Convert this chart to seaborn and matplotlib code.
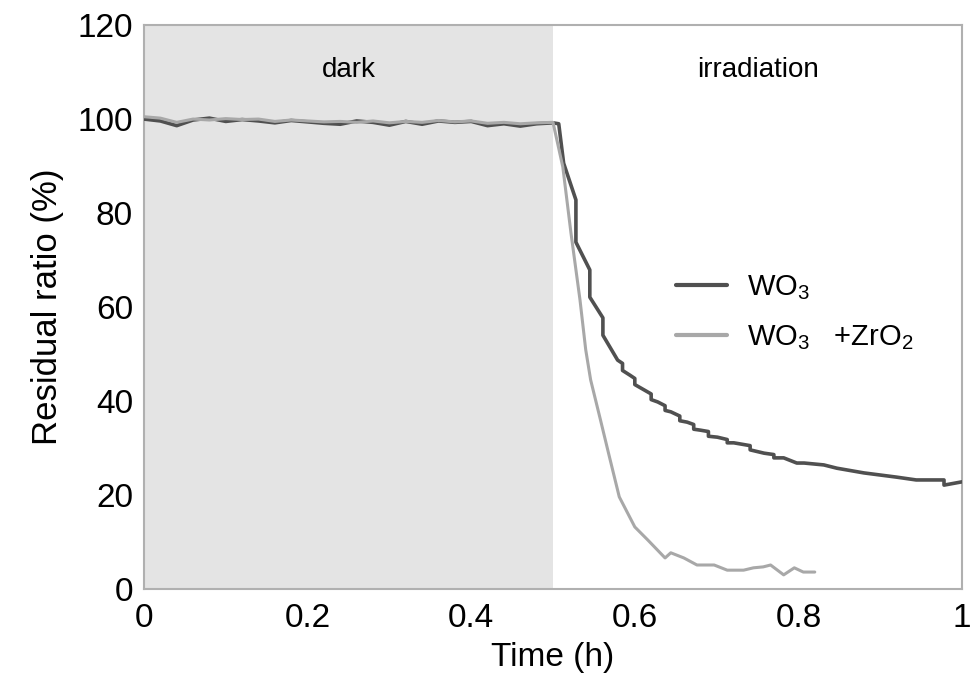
import pandas as pd
import matplotlib.pyplot as plt
import seaborn as sns

# time (h) and residual ratio (%)
wo3_time = [0.00, 0.02, 0.04, 0.06, 0.08, 0.10, 0.12, 0.14, 0.16, 0.18, 0.20, 0.22, 0.24,
            0.26, 0.28, 0.30, 0.32, 0.34, 0.36, 0.38, 0.40, 0.42, 0.44, 0.46, 0.48, 0.50,
            0.507, 0.513, 0.528, 0.528, 0.545, 0.545, 0.561, 0.561, 0.579, 0.585, 0.585,
            0.594, 0.600, 0.600, 0.612, 0.620, 0.620, 0.628, 0.637, 0.637, 0.644, 0.655,
            0.655, 0.664, 0.672, 0.672, 0.680, 0.690, 0.690, 0.701, 0.713, 0.713, 0.721,
            0.741, 0.741, 0.758, 0.770, 0.770, 0.782, 0.798, 0.807, 0.831, 0.847, 0.880,
            0.920, 0.944, 0.978, 0.978, 1.00]
wo3_ratio = [100.0, 99.6, 98.6, 99.8, 100.2, 99.5, 99.9, 99.6, 99.2, 99.7, 99.4, 99.1, 98.9,
             99.6, 99.3, 98.7, 99.5, 98.9, 99.6, 99.3, 99.5, 98.6, 99.0, 98.5, 99.0, 99.2,
             99.0, 90.6, 82.8, 73.8, 67.9, 62.1, 57.7, 54.0, 48.7, 48.0, 46.5,
             45.5, 44.8, 43.5, 42.3, 41.5, 40.3, 39.8, 39.0, 38.0, 37.7, 36.8,
             35.8, 35.5, 35.0, 34.0, 33.8, 33.5, 32.5, 32.3, 31.8, 31.1, 31.1,
             30.5, 29.6, 28.9, 28.6, 27.9, 27.9, 26.8, 26.8, 26.4, 25.7, 24.7,
             23.8, 23.2, 23.2, 22.1, 22.8]

zro2_time = [0.00, 0.02, 0.04, 0.06, 0.08, 0.10, 0.12, 0.14, 0.16, 0.18, 0.20, 0.22, 0.24,
             0.26, 0.28, 0.30, 0.32, 0.34, 0.36, 0.38, 0.40, 0.42, 0.44, 0.46, 0.48, 0.50,
             0.512, 0.522, 0.533, 0.540, 0.546, 0.558, 0.569, 0.581, 0.600, 0.616, 0.637,
             0.644, 0.660, 0.676, 0.697, 0.713, 0.733, 0.745, 0.757, 0.766, 0.782, 0.795,
             0.806, 0.820]
zro2_ratio = [100.5, 100.2, 99.3, 100.0, 99.8, 100.1, 99.9, 100.0, 99.5, 99.8, 99.6, 99.4, 99.5,
              99.3, 99.6, 99.2, 99.5, 99.3, 99.7, 99.4, 99.6, 99.1, 99.3, 99.0, 99.2, 99.3,
              89.8, 75.7, 61.5, 50.9, 44.5, 36.0, 28.1, 19.6, 13.2, 10.4, 6.6,
              7.7, 6.6, 5.1, 5.1, 4.0, 4.0, 4.5, 4.7, 5.1, 3.0, 4.5,
              3.6, 3.6]

labels = ['WO$_3$', 'WO$_3$   +ZrO$_2$']

df = pd.concat([
    pd.DataFrame({'time': wo3_time, 'ratio': wo3_ratio, 'sample': labels[0]}),
    pd.DataFrame({'time': zro2_time, 'ratio': zro2_ratio, 'sample': labels[1]}),
])

sns.set_style('white')
plt.rcParams['font.family'] = ['Liberation Sans', 'DejaVu Sans']
plt.rcParams['mathtext.fontset'] = 'custom'
plt.rcParams['mathtext.rm'] = 'Liberation Sans'
plt.rcParams['mathtext.it'] = 'Liberation Sans'
plt.rcParams['mathtext.default'] = 'regular'
plt.rcParams['text.color'] = 'black'
plt.rcParams['axes.labelcolor'] = 'black'
plt.rcParams['xtick.labelcolor'] = 'black'
plt.rcParams['ytick.labelcolor'] = 'black'

fig = plt.figure(figsize=(9.73, 6.97), dpi=100)
ax = fig.add_axes([0.148, 0.155, 0.8407, 0.809])

# shaded dark period
ax.axvspan(0, 0.5, color='#e4e4e4', zorder=0, lw=0)

sns.lineplot(data=df, x='time', y='ratio', hue='sample', estimator=None, sort=False,
             palette={labels[0]: '#505050', labels[1]: '#a8a8a8'}, ax=ax, zorder=3)
for line, lw in zip(ax.lines, [2.6, 2.2]):
    line.set_linewidth(lw)

ax.set_xlim(0, 1)
ax.set_ylim(0, 120)
ax.set_xticks([0, 0.2, 0.4, 0.6, 0.8, 1])
ax.set_xticklabels(['0', '0.2', '0.4', '0.6', '0.8', '1'])
ax.set_yticks([0, 20, 40, 60, 80, 100, 120])
ax.tick_params(direction='in', length=5, color='#b0b0b0', labelsize=24, pad=8)
ax.tick_params(axis='x', pad=10)
for s in ax.spines.values():
    s.set_color('#b0b0b0')
    s.set_linewidth(1.5)

ax.set_xlabel('Time (h)', fontsize=24, labelpad=6)
ax.set_ylabel('Residual ratio (%)', fontsize=25, labelpad=10)

ax.text(0.25, 110.5, 'dark', ha='center', va='center', fontsize=20)
ax.text(0.75, 110.5, 'irradiation', ha='center', va='center', fontsize=20)

handles, _ = ax.get_legend_handles_labels()
for h in handles:
    h.set_linewidth(3)
ax.legend(handles=handles, labels=labels, loc='center left', bbox_to_anchor=(0.632, 0.49),
          frameon=False, fontsize=21, handlelength=1.75, handletextpad=0.7,
          labelspacing=0.7, borderpad=0)

plt.savefig('out.png', dpi=100)
